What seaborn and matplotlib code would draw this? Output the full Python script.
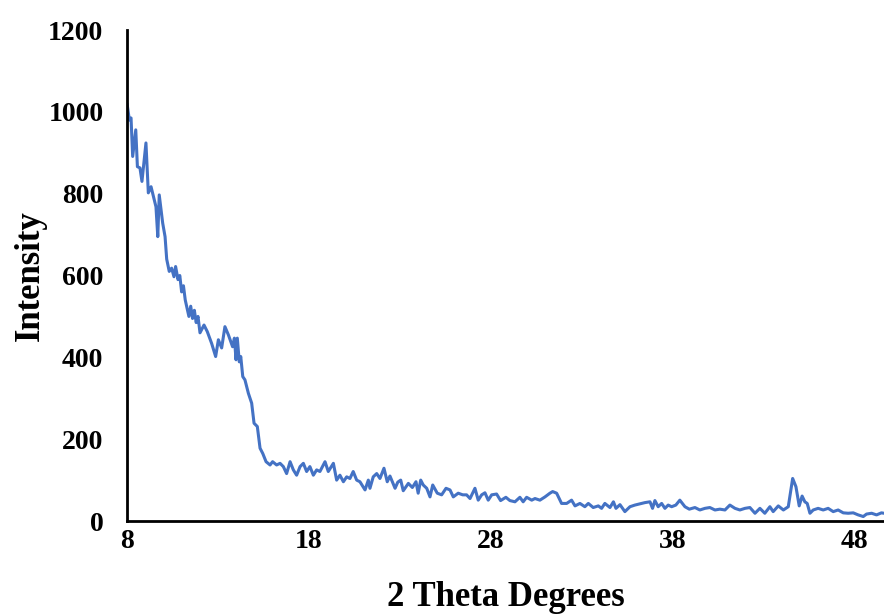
import pandas as pd
import seaborn as sns
import matplotlib
matplotlib.use("Agg")
import matplotlib.pyplot as plt

# values
two_theta = [
    8.0, 8.13, 8.22, 8.31, 8.48, 8.57, 8.71, 8.82, 9.04, 9.17, 9.32, 9.59, 9.69, 9.77,
    9.96, 10.09, 10.18, 10.32, 10.45, 10.58, 10.67, 10.8, 10.9, 11.0, 11.1, 11.2, 11.3,
    11.4, 11.5, 11.6, 11.7, 11.8, 11.9, 12.01, 12.23, 12.41, 12.65, 12.87, 13.02, 13.2,
    13.38, 13.57, 13.8, 13.9, 13.99, 14.06, 14.17, 14.25, 14.36, 14.48, 14.67, 14.85,
    14.98, 15.16, 15.31, 15.46, 15.64, 15.86, 16.0, 16.22, 16.41, 16.59, 16.77, 16.96,
    17.14, 17.32, 17.51, 17.69, 17.87, 18.05, 18.24, 18.42, 18.6, 18.88, 19.06, 19.34,
    19.52, 19.7, 19.89, 20.07, 20.25, 20.43, 20.62, 20.8, 21.08, 21.26, 21.35, 21.53,
    21.72, 21.9, 22.12, 22.3, 22.45, 22.6, 22.73, 22.88, 23.04, 23.18, 23.46, 23.68,
    23.88, 24.0, 24.14, 24.28, 24.47, 24.65, 24.8, 25.05, 25.29, 25.53, 25.75, 25.93,
    26.2, 26.45, 26.66, 26.85, 27.12, 27.3, 27.49, 27.67, 27.85, 28.04, 28.31, 28.53,
    28.82, 29.04, 29.32, 29.59, 29.77, 29.96, 30.24, 30.42, 30.69, 30.97, 31.24, 31.39,
    31.61, 31.88, 32.16, 32.43, 32.62, 32.89, 33.16, 33.35, 33.62, 33.9, 34.08, 34.26,
    34.54, 34.73, 34.87, 35.09, 35.36, 35.64, 35.91, 36.19, 36.46, 36.74, 36.88, 37.01,
    37.19, 37.38, 37.56, 37.74, 37.93, 38.16, 38.38, 38.66, 38.9, 39.21, 39.48, 39.76,
    40.03, 40.31, 40.58, 40.86, 41.13, 41.41, 41.68, 41.96, 42.23, 42.51, 42.78, 43.05,
    43.33, 43.51, 43.79, 44.07, 44.34, 44.58, 44.76, 44.94, 45.1, 45.25, 45.38, 45.53,
    45.71, 45.98, 46.26, 46.53, 46.81, 47.08, 47.36, 47.63, 47.91, 48.18, 48.46, 48.64,
    48.92, 49.19, 49.46, 49.59,
]
intensity = [
    1020, 980, 985, 891, 956, 866, 863, 830, 924, 802, 817, 768, 695, 797,
    728, 695, 640, 610, 618, 597, 622, 590, 600, 560, 575, 540, 520,
    500, 525, 495, 515, 485, 500, 460, 479, 463, 434, 402, 443, 423,
    475, 455, 426, 447, 394, 447, 389, 402, 353, 345, 312, 288,
    239, 231, 178, 165, 145, 137, 145, 137, 141, 133, 116, 145,
    125, 112, 133, 141, 121, 133, 112, 125, 121, 145, 121, 141,
    100, 112, 96, 108, 104, 121, 100, 96, 76, 100, 80, 108,
    116, 104, 129, 96, 110, 94, 80, 95, 100, 74, 92, 82,
    96, 68, 100, 88, 80, 59, 88, 68, 64, 80, 76, 59,
    68, 64, 64, 55, 80, 51, 64, 69, 51, 64, 66, 50,
    58, 50, 47, 58, 47, 58, 51, 55, 51, 59, 68, 72,
    68, 43, 43, 51, 37, 43, 35, 43, 33, 37, 31, 43,
    33, 47, 31, 40, 23, 35, 39, 42, 45, 47, 31, 50,
    35, 43, 31, 39, 35, 39, 51, 35, 29, 33, 27, 31,
    33, 27, 29, 27, 39, 31, 27, 31, 33, 19, 31, 19,
    35, 23, 37, 27, 35, 104, 84, 37, 61, 47, 43, 19,
    27, 31, 27, 31, 23, 27, 20, 19, 20, 15, 11, 17,
    19, 15, 20, 19,
]
x_ticks = [8, 18, 28, 38, 48]
y_ticks = [0, 200, 400, 600, 800, 1000, 1200]

df = pd.DataFrame({"two_theta": two_theta, "intensity": intensity})

sns.set_theme(style="white")
plt.rcParams["font.family"] = ["Liberation Serif", "DejaVu Serif"]
plt.rcParams["font.weight"] = "bold"
for key in ["text.color", "axes.labelcolor", "xtick.color", "ytick.color"]:
    plt.rcParams[key] = "black"

fig = plt.figure(figsize=(8.84, 6.15), dpi=100)
ax = fig.add_axes([0.1437, 0.1528, 0.8563, 0.7984])

sns.lineplot(data=df, x="two_theta", y="intensity", ax=ax, color="#4472C4",
             linewidth=2.2, sort=False, estimator=None)

ax.set_xlim(8, 49.6)
ax.set_ylim(0, 1200)
ax.set_xticks(x_ticks)
ax.set_yticks(y_ticks)
ax.tick_params(axis="both", length=0, labelsize=20)
ax.tick_params(axis="y", pad=17)
ax.tick_params(axis="x", pad=6)
for lab in ax.get_xticklabels() + ax.get_yticklabels():
    lab.set_fontweight("bold")

ax.set_xlabel("2 Theta Degrees", fontsize=25, fontweight="bold", labelpad=19)
ax.set_ylabel("Intensity", fontsize=25, fontweight="bold", labelpad=1)

for side in ["top", "right"]:
    ax.spines[side].set_visible(False)
for side in ["left", "bottom"]:
    ax.spines[side].set_color("black")
    ax.spines[side].set_linewidth(2)
ax.grid(False)

fig.savefig("out.png", dpi=100)
